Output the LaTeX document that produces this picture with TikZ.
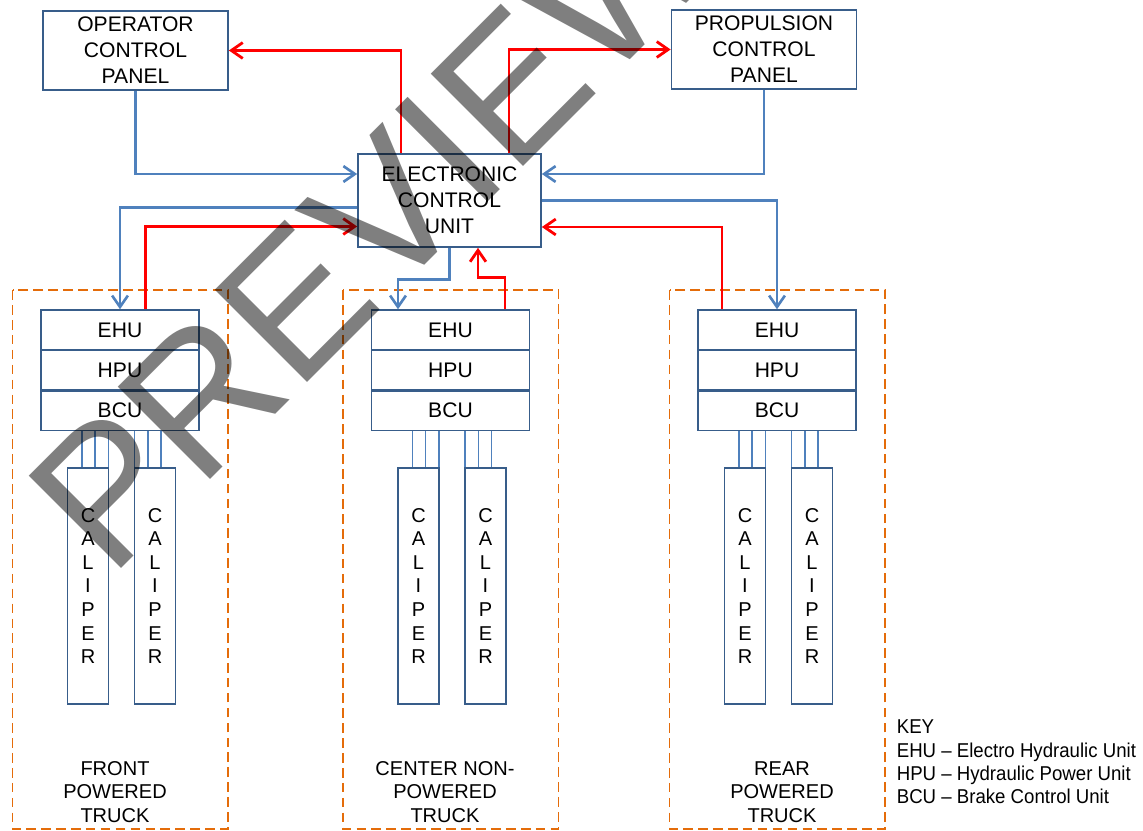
\documentclass[tikz,border=0pt]{standalone}
\usepackage{fontspec}
\setmainfont{Liberation Sans}
\newfontfamily\keyfont[FakeStretch=0.93]{Liberation Sans}
\usetikzlibrary{arrows.meta,calc}
\definecolor{boxblue}{HTML}{385D8A}
\definecolor{lineblue}{HTML}{4F81BD}
\definecolor{sigred}{HTML}{FF0000}
\definecolor{truckorange}{HTML}{E46C0A}

\begin{document}
\begin{tikzpicture}[x=0.02cm, y=-0.02cm,
    panel/.style={draw=boxblue, line width=1pt, minimum width=3.7cm, minimum height=1.58cm, inner sep=0pt, align=center, font=\fontsize{12}{14.8}\selectfont},
    unitbox/.style={draw=boxblue, line width=1pt, minimum width=3.16cm, minimum height=0.794cm, inner sep=0pt, font=\fontsize{12}{14.8}\selectfont},
    caliperbox/.style={draw=boxblue, line width=1pt, minimum width=0.82cm, minimum height=4.72cm, inner sep=0pt, align=center, font=\fontsize{11.4}{13.45}\selectfont},
    bluearrow/.style={lineblue, line width=1.5pt, -{Straight Barb[length=6.5pt,width=9pt]}},
    redarrow/.style={sigred, line width=1.6pt, -{Straight Barb[length=6.5pt,width=9pt]}},
    hose/.style={lineblue, line width=0.8pt},
    truckframe/.style={truckorange, line width=1.1pt, dash pattern=on 5.5pt off 3pt},
    trucklabel/.style={align=center, inner sep=0pt, font=\fontsize{11.4}{13.4}\selectfont}]
    \useasboundingbox (0,0) rectangle (1143,831);

    % Panels and ECU
    \node[panel] (ocp) at (135.5,50.5) {OPERATOR\\CONTROL\\PANEL};
    \node[panel] (pcp) at (764,49.5) {PROPULSION\\CONTROL\\PANEL};
    \node[panel, minimum width=3.66cm, minimum height=1.86cm] (ecu) at (449.5,200.5) {ELECTRONIC\\CONTROL\\UNIT};

    % Trucks
    \foreach \t/\cx/\lx/\lab in {F/120/115/{FRONT\\POWERED\\TRUCK}, C/450.5/445/{CENTER NON-\\POWERED\\TRUCK}, R/777/782/{REAR\\POWERED\\TRUCK}} {
        \draw[truckframe] (\cx-107.5,290) rectangle (\cx+108,829);
        \node[unitbox] (ehu\t) at (\cx,330) {EHU};
        \node[unitbox] (hpu\t) at (\cx,370.3) {HPU};
        \node[unitbox] (bcu\t) at (\cx,410.6) {BCU};
        \node[caliperbox] (calA\t) at (\cx-32,586) {C\\A\\L\\I\\P\\E\\R};
        \node[caliperbox] (calB\t) at (\cx+35,586) {C\\A\\L\\I\\P\\E\\R};
        \foreach \dx in {-6,7,20.5} {
            \path (calA\t.north) ++(\dx,0) coordinate (hp);
            \draw[hose] (hp) -- (hp |- bcu\t.south);
        }
        \foreach \dx in {-20.5,-7,6} {
            \path (calB\t.north) ++(\dx,0) coordinate (hp);
            \draw[hose] (hp) -- (hp |- bcu\t.south);
        }
        \node[trucklabel] (lab\t) at (\lx,792) {\lab};
    }

    % Connections
    \draw[redarrow] ($(ecu.north)+(-48.5,0)$) |- (ocp.east);
    \draw[redarrow] ($(ecu.north)+(59.5,0)$) |- (pcp.west);
    \draw[bluearrow] (ocp.south) |- ($(ecu.west)+(0,-26.5)$);
    \draw[bluearrow] (pcp.south) |- ($(ecu.east)+(0,-26.5)$);
    \draw[bluearrow] ($(ecu.west)+(0,7)$) -| (ehuF.north);
    \draw[redarrow] ($(ehuF.north)+(25.5,0)$) |- ($(ecu.west)+(0,26)$);
    \draw[bluearrow] (ecu.east) -| (ehuR.north);
    \draw[redarrow] ($(ehuR.north)+(-55,0)$) |- ($(ecu.east)+(0,26.5)$);
    \draw[bluearrow] (ecu.south) -- ++(0,31.5) -| ($(ehuC.north)+(-52.5,0)$);
    \draw[redarrow] ($(ehuC.north)+(54.5,0)$) -- ++(0,-31.5) -| ($(ecu.south)+(28.5,0)$);

    % Key
    \node[align=left, anchor=west, inner sep=0pt, font=\keyfont\fontsize{11.4}{13.3}\selectfont] (key) at (896.5,762)
        {KEY\\EHU – Electro Hydraulic Unit\\HPU – Hydraulic Power Unit\\BCU – Brake Control Unit};

    % Watermark
    \node[rotate=45, anchor=base west, inner sep=0pt, text=black, text opacity=0.5, font=\fontsize{108}{108}\selectfont] (wmark) at (110,580) {PREVIEW};
\end{tikzpicture}
\end{document}
